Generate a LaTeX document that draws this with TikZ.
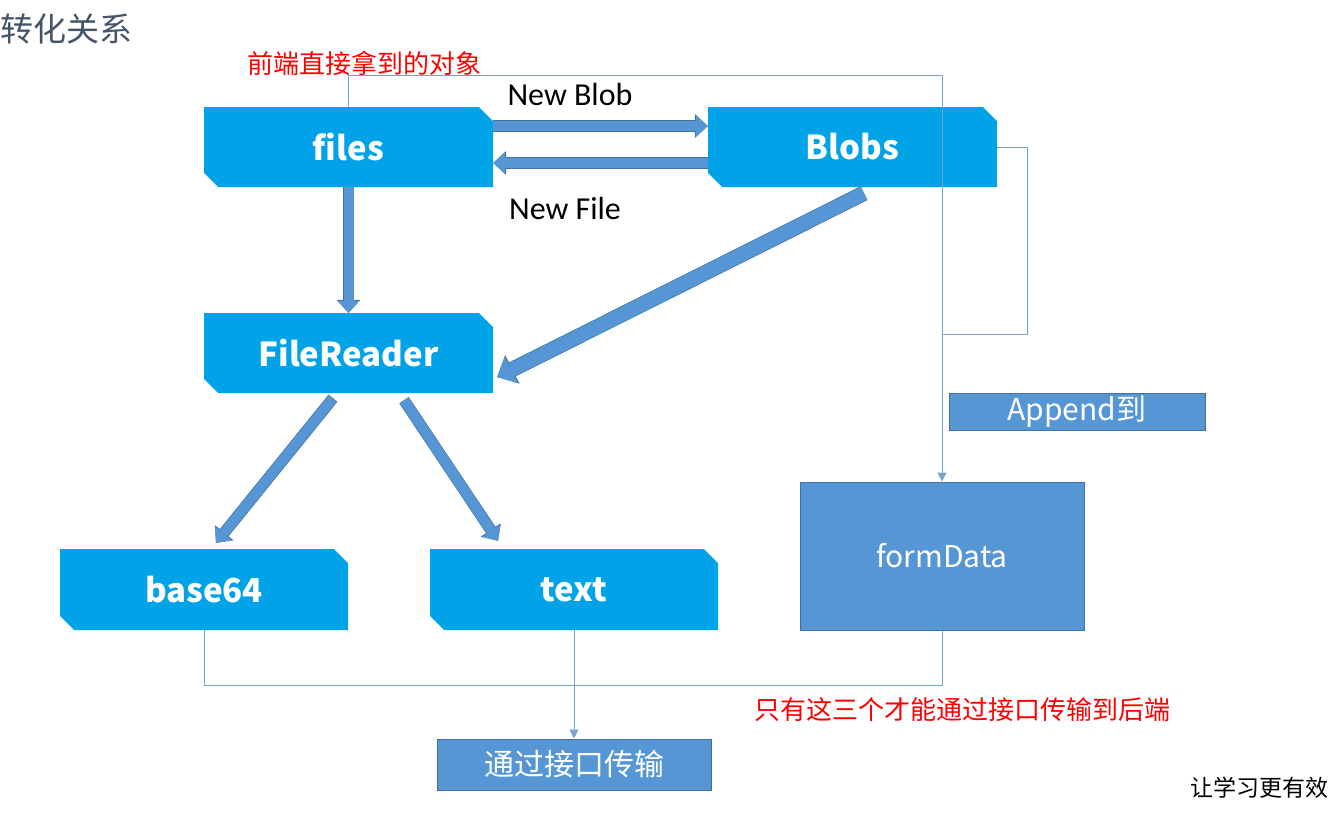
\documentclass[tikz,border=0pt]{standalone}
\usepackage[dvipsnames]{xcolor}
\usepackage{tikz}
\usepackage{fontspec}
\setmainfont{Carlito}
\newfontfamily\cjk{Noto Sans CJK SC}
\usetikzlibrary{shapes.misc,arrows.meta}
\definecolor{boxblue}{RGB}{0,162,232}
\definecolor{arrowfill}{RGB}{86,150,212}
\definecolor{arrowline}{RGB}{65,113,156}
\definecolor{linkblue}{RGB}{122,162,206}
\definecolor{titlegray}{RGB}{68,84,106}

\begin{document}
\begin{tikzpicture}[x=1pt,y=-1pt]
						\tikzstyle{block}=[chamfered rectangle,chamfered rectangle corners={north east,south west},chamfered rectangle xsep=11pt,fill=boxblue,text=white,minimum width=289pt,minimum height=80pt,inner sep=0pt,font=\cjk\bfseries\fontsize{33}{37}\selectfont]
						\tikzstyle{panel}=[rectangle,fill=arrowfill,draw=arrowline,line width=1pt,text=white,inner sep=0pt,font=\cjk\fontsize{30}{34}\selectfont]
						\tikzstyle{fat}=[draw=arrowfill,line width=10pt,-{Triangle[length=12pt,width=22pt,line width=0pt]},preaction={draw=arrowline,line width=11.4pt,-{Triangle[length=13pt,width=24pt,line width=0pt]}}]
						\tikzstyle{wide}=[draw=arrowfill,line width=14pt,-{Triangle[length=16pt,width=30pt,line width=0pt]},preaction={draw=arrowline,line width=15.4pt,-{Triangle[length=17pt,width=32pt,line width=0pt]}}]
						\tikzstyle{link}=[draw=linkblue,line width=1pt]
						\tikzstyle{tip}=[-{Triangle[length=9pt,width=9pt]}]
						\fill[white] (0,0) rectangle (1331,819);
						\useasboundingbox (0,0) rectangle (1331,819);
						\node[block](files) at (348.5,147) {files};
						\node[block](blobs) at (852.5,147) {Blobs};
						\node[block](reader) at (348.5,353) {FileReader};
						\node[block,minimum width=288pt,minimum height=81pt](b64) at (204,589.5) {base64};
						\node[block,minimum width=288pt,minimum height=81pt](txt) at (574,589.5) {text};
						\node[panel,minimum width=284pt,minimum height=148pt](form) at (942,556) {formData};
						\node[panel,minimum width=256pt,minimum height=37pt](app) at (1077,411.5) {Append到};
						\node[panel,minimum width=274pt,minimum height=51pt](send) at (574,764.5) {通过接口传输};
						\node[text=titlegray,font=\cjk\fontsize{33}{37}\selectfont,anchor=west,inner sep=0pt](title) at (0,29) {转化关系};
						\node[text=red,font=\cjk\fontsize{26}{30}\selectfont](front) at (364.5,63) {前端直接拿到的对象};
						\node[font=\fontsize{32}{36}\selectfont](newblob) at (570,94) {New Blob};
						\node[font=\fontsize{32}{36}\selectfont](newfile) at (565,208) {New File};
						\node[text=red,font=\cjk\fontsize{26}{30}\selectfont](only) at (962.5,710) {只有这三个才能通过接口传输到后端};
						\node[font=\cjk\fontsize{23}{26}\selectfont,anchor=east,inner sep=0pt](slogan) at (1329,788) {让学习更有效};
						\draw[fat]([yshift=21pt]files.east) -- ([yshift=21pt]blobs.west);
						\draw[fat]([yshift=-16pt]blobs.west) -- ([yshift=-16pt]files.east);
						\draw[fat](files.south) -- (reader.north);
						\draw[wide]([xshift=11.5pt,yshift=-6pt]blobs.south) -- ([xshift=4pt,yshift=-24pt]reader.east);
						\draw[fat]([xshift=-15.5pt,yshift=-5pt]reader.south) -- ([xshift=12pt,yshift=6pt]b64.north);
						\draw[fat]([xshift=55.5pt,yshift=-7pt]reader.south) -- ([xshift=-76pt,yshift=8pt]txt.north);
						\coordinate (join) at (942,334);
						\draw[link,tip](files.north) -- ++(0,-31) -| (form.north);
						\draw[link](blobs.east) -- ++(30,0) |- (join);
						\draw[link](b64.south) -- ++(0,55) -| (form.south);
						\draw[link,tip](txt.south) -- (send.north);
					\end{tikzpicture}
\end{document}
